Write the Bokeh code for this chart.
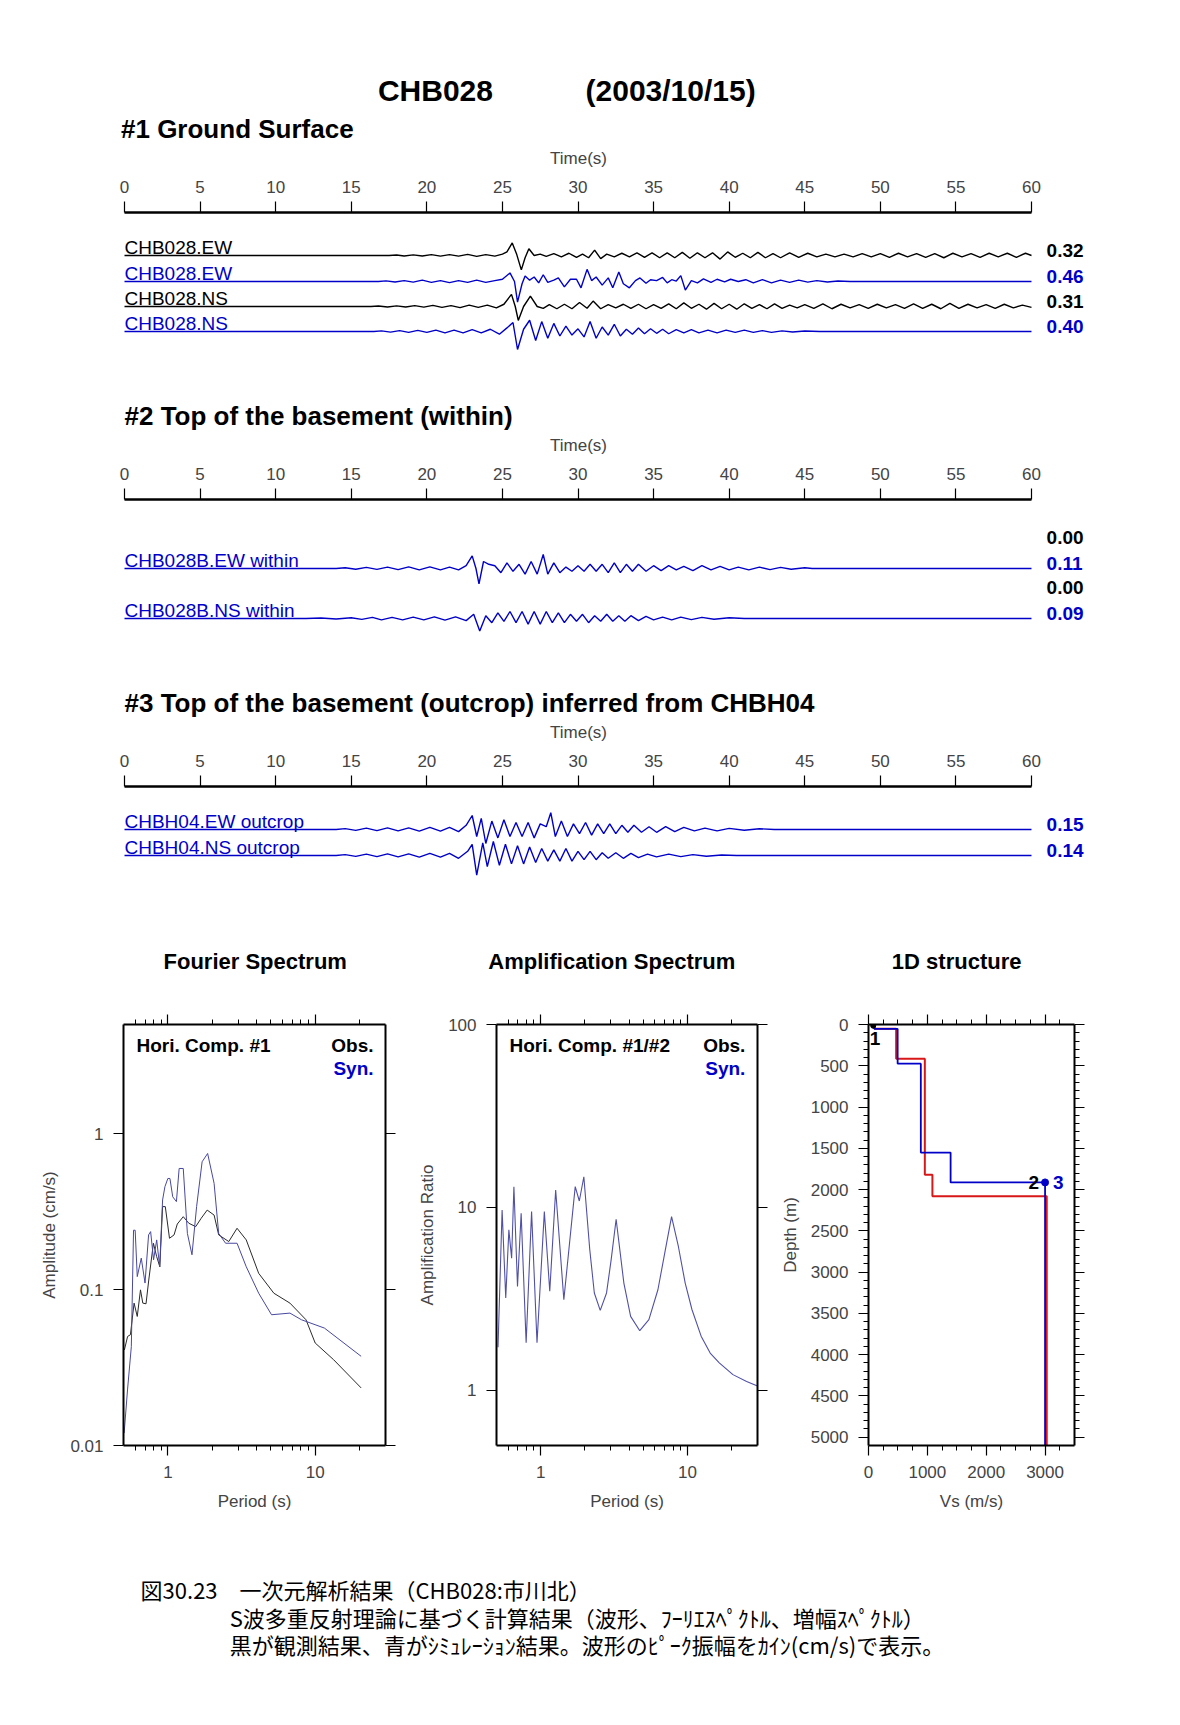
from bokeh.plotting import figure
from bokeh.models import Range1d, LinearAxis, LogAxis, FixedTicker, CustomJSTickFormatter
from bokeh.layouts import column, row
from bokeh.embed import file_html
from bokeh.resources import INLINE
from bokeh.core.properties import value

# ---------------------------------------------------------------- data
time_ticks = list(range(0, 61, 5))

# section 1 : ground surface (t [s], v [cm/s])
ew_obs = [(0, 0), (17.5, 0), (18.0, 0.01), (18.5, -0.01), (19.1, 0.015), (19.7, -0.01), (20.3, 0.02),
          (20.9, -0.015), (21.5, 0.02), (22.1, -0.015), (22.7, 0.025), (23.3, -0.02), (23.9, 0.02),
          (24.5, -0.015), (25.0, 0.03), (25.3, 0.08), (25.65, 0.28), (25.95, 0.02), (26.25, -0.32),
          (26.5, -0.05), (26.75, 0.15), (27.1, 0.0), (27.5, 0.03), (27.9, -0.02), (28.4, 0.04),
          (28.9, -0.03), (29.4, 0.05), (29.9, -0.04), (30.3, 0.03), (30.7, -0.05), (31.1, 0.12),
          (31.5, -0.07), (31.9, 0.03), (32.4, -0.03), (32.9, 0.05), (33.4, -0.03), (33.9, 0.06),
          (34.4, -0.04), (34.9, 0.06), (35.4, -0.05), (35.9, 0.06), (36.4, -0.05), (36.9, 0.07),
          (37.4, -0.06), (37.9, 0.06), (38.4, -0.05), (38.9, 0.06), (39.4, -0.08), (39.9, 0.08),
          (40.4, -0.04), (40.9, 0.05), (41.4, -0.05), (41.9, 0.07), (42.4, -0.05), (42.9, 0.04),
          (43.4, -0.05), (44.0, 0.06), (44.6, -0.04), (45.2, 0.05), (45.8, -0.03), (46.4, 0.03),
          (47.0, -0.03), (47.6, 0.03), (48.2, -0.03), (48.8, 0.04), (49.4, -0.03), (50.0, 0.04),
          (50.6, -0.04), (51.2, 0.05), (51.8, -0.03), (52.4, 0.04), (53.0, -0.04), (53.6, 0.04),
          (54.2, -0.05), (54.8, 0.05), (55.4, -0.03), (56.0, 0.04), (56.6, -0.04), (57.2, 0.05),
          (57.8, -0.03), (58.4, 0.05), (59.0, -0.04), (59.6, 0.05), (60.0, 0.0)]
ew_syn = [(0, 0), (16.8, 0), (17.3, 0.015), (17.9, -0.01), (18.5, 0.02), (19.1, -0.015), (19.7, 0.03),
          (20.3, -0.02), (20.9, 0.02), (21.5, -0.025), (22.1, 0.02), (22.7, -0.02), (23.3, 0.03),
          (23.9, -0.02), (24.5, 0.02), (25.0, 0.05), (25.5, 0.19), (25.8, 0.0), (26.0, -0.46),
          (26.3, -0.05), (26.5, 0.12), (26.8, 0.03), (27.1, 0.10), (27.4, -0.03), (27.7, 0.15),
          (28.0, -0.02), (28.4, 0.03), (28.7, 0.08), (29.1, -0.12), (29.5, 0.05), (29.9, 0.05),
          (30.2, -0.14), (30.6, 0.27), (30.9, 0.02), (31.2, 0.1), (31.6, -0.08), (32.0, 0.08),
          (32.3, -0.14), (32.7, 0.21), (33.0, -0.05), (33.4, -0.14), (33.8, 0.02), (34.1, 0.08),
          (34.5, -0.04), (34.8, 0.04), (35.2, 0.02), (35.6, 0.09), (35.9, -0.03), (36.2, 0.04),
          (36.5, 0.01), (36.8, 0.13), (37.1, -0.19), (37.5, 0.02), (37.9, -0.03), (38.3, 0.06),
          (38.8, -0.02), (39.2, 0.05), (39.7, -0.01), (40.1, 0.05), (40.6, 0.0), (41.1, 0.04),
          (41.6, -0.03), (42.2, 0.04), (42.8, -0.03), (43.4, 0.03), (44.0, -0.02), (44.6, 0.03),
          (45.2, -0.015), (45.8, 0.02), (46.5, -0.01), (47.2, 0.01), (48.0, 0.0), (60.0, 0.0)]
ns_obs = [(0, 0), (16.3, 0), (16.8, 0.01), (17.4, -0.01), (18.0, 0.015), (18.6, -0.01), (19.2, 0.02),
          (19.8, -0.015), (20.4, 0.025), (21.0, -0.02), (21.6, 0.02), (22.2, -0.025), (22.8, 0.03),
          (23.4, -0.02), (24.0, 0.03), (24.6, -0.03), (25.1, 0.05), (25.6, 0.27), (25.85, 0.0),
          (26.05, -0.31), (26.4, 0.0), (26.85, 0.23), (27.3, 0.0), (27.7, -0.04), (28.1, 0.04),
          (28.6, -0.05), (29.1, 0.05), (29.6, -0.05), (30.1, 0.09), (30.6, -0.04), (31.0, 0.12),
          (31.5, -0.05), (32.0, 0.04), (32.5, -0.03), (33.0, 0.05), (33.5, -0.04), (34.0, 0.05),
          (34.5, -0.05), (35.0, 0.04), (35.5, -0.04), (36.0, 0.06), (36.5, -0.05), (37.0, 0.08),
          (37.5, -0.04), (38.0, 0.05), (38.5, -0.06), (39.0, 0.07), (39.5, -0.05), (40.0, 0.05),
          (40.5, -0.06), (41.0, 0.06), (41.5, -0.04), (42.0, 0.04), (42.5, -0.05), (43.0, 0.06),
          (43.5, -0.04), (44.0, 0.03), (44.5, -0.03), (45.0, 0.04), (45.6, -0.04), (46.2, 0.06),
          (46.8, -0.05), (47.4, 0.05), (48.0, -0.03), (48.6, 0.04), (49.2, -0.04), (49.8, 0.05),
          (50.4, -0.03), (51.0, 0.04), (51.6, -0.04), (52.2, 0.06), (52.8, -0.04), (53.4, 0.05),
          (54.0, -0.05), (54.6, 0.07), (55.2, -0.04), (55.8, 0.05), (56.4, -0.03), (57.0, 0.04),
          (57.6, -0.04), (58.2, 0.05), (58.8, -0.03), (59.4, 0.03), (60.0, -0.02)]
ns_syn = [(0, 0), (16.5, 0), (17.0, 0.015), (17.6, -0.015), (18.2, 0.02), (18.8, -0.02), (19.4, 0.025),
          (20.0, -0.02), (20.6, 0.03), (21.2, -0.03), (21.8, 0.03), (22.4, -0.03), (23.0, 0.04),
          (23.6, -0.03), (24.2, 0.05), (24.8, -0.06), (25.3, 0.08), (25.7, 0.2), (26.0, -0.40),
          (26.4, 0.05), (26.8, 0.25), (27.2, -0.2), (27.6, 0.22), (28.0, -0.15), (28.4, 0.18),
          (28.8, -0.1), (29.2, 0.12), (29.6, -0.08), (30.0, 0.06), (30.4, -0.12), (30.8, 0.22),
          (31.2, -0.15), (31.6, 0.1), (32.0, -0.08), (32.4, 0.16), (32.8, -0.1), (33.2, 0.05),
          (33.6, -0.06), (34.0, 0.08), (34.4, -0.05), (34.8, 0.06), (35.2, -0.04), (35.6, 0.05),
          (36.0, -0.05), (36.5, 0.04), (37.0, -0.03), (37.5, 0.04), (38.0, -0.03), (38.6, 0.03),
          (39.2, -0.03), (39.8, 0.03), (40.4, -0.02), (41.0, 0.03), (41.6, -0.02), (42.2, 0.02),
          (42.8, -0.02), (43.5, 0.015), (44.2, -0.01), (45.0, 0.01), (46.0, 0.0), (60.0, 0.0)]

# section 2 : top of the basement (within)
ewb_syn = [(0, 0), (14.0, 0), (14.6, 0.005), (15.3, -0.005), (16.0, 0.008), (16.7, -0.006), (17.4, 0.01),
           (18.1, -0.008), (18.8, 0.012), (19.5, -0.01), (20.2, 0.012), (20.9, -0.01), (21.5, 0.01),
           (22.1, -0.01), (22.6, 0.02), (23.0, 0.09), (23.25, 0.0), (23.45, -0.11), (23.75, 0.05),
           (24.1, 0.03), (24.5, 0.02), (24.9, -0.03), (25.3, 0.04), (25.7, -0.02), (26.1, 0.03),
           (26.5, -0.04), (26.9, 0.05), (27.3, -0.04), (27.7, 0.1), (28.0, -0.04), (28.4, 0.04),
           (28.8, -0.03), (29.2, 0.01), (29.6, -0.02), (30.0, 0.02), (30.4, -0.02), (30.8, 0.03),
           (31.2, -0.02), (31.6, 0.03), (32.0, -0.03), (32.4, 0.04), (32.8, -0.03), (33.2, 0.03),
           (33.6, -0.02), (34.0, 0.03), (34.5, -0.02), (35.0, 0.02), (35.5, -0.015), (36.0, 0.02),
           (36.5, -0.01), (37.0, 0.015), (37.6, -0.015), (38.2, 0.02), (38.8, -0.01), (39.4, 0.015),
           (40.0, -0.01), (40.6, 0.01), (41.3, -0.01), (42.0, 0.01), (42.7, -0.008), (43.4, 0.008),
           (44.1, -0.005), (45.0, 0.005), (45.5, 0.0), (60.0, 0.0)]
nsb_syn = [(0, 0), (12.0, 0), (13.0, 0.004), (14.0, -0.004), (15.0, 0.005), (15.7, -0.006), (16.4, 0.008),
           (17.0, -0.01), (17.7, 0.008), (18.4, -0.01), (19.1, 0.01), (19.8, -0.01), (20.5, 0.012),
           (21.2, -0.012), (21.9, 0.012), (22.6, -0.015), (23.1, 0.03), (23.5, -0.09), (23.9, 0.02),
           (24.3, -0.03), (24.7, 0.04), (25.1, -0.02), (25.5, 0.05), (25.9, -0.03), (26.3, 0.05),
           (26.7, -0.04), (27.1, 0.05), (27.5, -0.04), (27.9, 0.05), (28.3, -0.03), (28.7, 0.04),
           (29.1, -0.03), (29.5, 0.03), (29.9, -0.02), (30.3, 0.03), (30.7, -0.03), (31.1, 0.02),
           (31.5, -0.02), (31.9, 0.03), (32.3, -0.02), (32.7, 0.02), (33.1, -0.02), (33.5, 0.02),
           (34.0, -0.015), (34.5, 0.015), (35.0, -0.01), (35.6, 0.01), (36.2, -0.01), (36.8, 0.01),
           (37.5, -0.008), (38.2, 0.008), (39.0, -0.005), (40.0, 0.005), (41.0, 0.0), (60.0, 0.0)]

# section 3 : top of the basement (outcrop) from CHBH04
ewo_syn = [(0, 0), (14.0, 0), (14.6, 0.006), (15.3, -0.006), (16.0, 0.01), (16.7, -0.008), (17.4, 0.012),
           (18.1, -0.01), (18.8, 0.012), (19.5, -0.012), (20.2, 0.015), (20.9, -0.012), (21.5, 0.015),
           (22.1, -0.015), (22.6, 0.03), (23.0, 0.1), (23.3, -0.05), (23.6, 0.08), (23.9, -0.1),
           (24.3, 0.06), (24.7, -0.06), (25.1, 0.07), (25.5, -0.05), (25.9, 0.05), (26.3, -0.05),
           (26.7, 0.05), (27.1, -0.06), (27.5, 0.04), (27.9, 0.02), (28.2, 0.12), (28.5, -0.05),
           (28.9, 0.06), (29.3, -0.05), (29.7, 0.04), (30.1, -0.03), (30.5, 0.05), (30.9, -0.04),
           (31.3, 0.04), (31.7, -0.03), (32.1, 0.04), (32.5, -0.03), (32.9, 0.03), (33.3, -0.02),
           (33.7, 0.03), (34.2, -0.02), (34.7, 0.02), (35.2, -0.02), (35.8, 0.02), (36.4, -0.015),
           (37.0, 0.015), (37.7, -0.01), (38.4, 0.01), (39.2, -0.01), (40.0, 0.008), (41.0, -0.005),
           (42.0, 0.005), (43.0, 0.0), (60.0, 0.0)]
nso_syn = [(0, 0), (14.0, 0), (14.6, 0.006), (15.3, -0.006), (16.0, 0.01), (16.7, -0.008), (17.4, 0.012),
           (18.1, -0.01), (18.8, 0.012), (19.5, -0.012), (20.2, 0.015), (20.9, -0.012), (21.5, 0.015),
           (22.1, -0.02), (22.7, 0.03), (23.0, 0.08), (23.3, -0.14), (23.7, 0.09), (24.0, -0.08),
           (24.4, 0.1), (24.8, -0.07), (25.2, 0.08), (25.6, -0.06), (26.0, 0.07), (26.4, -0.06),
           (26.8, 0.06), (27.2, -0.05), (27.6, 0.05), (28.0, -0.04), (28.4, 0.04), (28.8, -0.04),
           (29.2, 0.05), (29.6, -0.04), (30.0, 0.03), (30.4, -0.03), (30.8, 0.03), (31.2, -0.03),
           (31.6, 0.02), (32.0, -0.02), (32.5, 0.02), (33.0, -0.02), (33.5, 0.015), (34.0, -0.015),
           (34.6, 0.01), (35.2, -0.01), (36.0, 0.01), (36.8, -0.008), (37.6, 0.006), (38.5, -0.005),
           (39.5, 0.004), (40.5, 0.0), (60.0, 0.0)]

sec1_names = ["CHB028.EW", "CHB028.EW", "CHB028.NS", "CHB028.NS"]
sec1_peaks = ["0.32", "0.46", "0.31", "0.40"]
sec2_names = ["", "CHB028B.EW within", "", "CHB028B.NS within"]
sec2_peaks = ["0.00", "0.11", "0.00", "0.09"]
sec3_names = ["CHBH04.EW outcrop", "CHBH04.NS outcrop"]
sec3_peaks = ["0.15", "0.14"]

# Fourier spectrum (period [s], amplitude [cm/s])
four_syn_period = [0.505, 0.533, 0.565, 0.585, 0.600, 0.620, 0.660, 0.700, 0.740, 0.764, 0.800, 0.840,
                   0.880, 0.921, 0.955, 1.000, 1.033, 1.079, 1.143, 1.193, 1.272, 1.357, 1.458, 1.567,
                   1.708, 1.862, 2.060, 2.213, 2.465, 2.949, 3.404, 4.134, 5.054, 6.74, 8.06, 11.55, 20.5]
four_syn_amp = [0.012, 0.023, 0.043, 0.24, 0.24, 0.121, 0.159, 0.110, 0.224, 0.235, 0.155, 0.208,
                0.140, 0.375, 0.456, 0.515, 0.515, 0.393, 0.366, 0.597, 0.597, 0.229, 0.167, 0.340,
                0.659, 0.745, 0.479, 0.229, 0.198, 0.198, 0.140, 0.0947, 0.0689, 0.0706, 0.064, 0.0566, 0.0373]
four_obs_period = [0.507, 0.533, 0.557, 0.590, 0.620, 0.652, 0.676, 0.711, 0.742, 0.798, 0.839, 0.882,
                   0.921, 0.961, 1.026, 1.102, 1.159, 1.272, 1.387, 1.545, 1.683, 1.849, 2.060, 2.213,
                   2.591, 2.949, 3.404, 4.134, 5.24, 6.74, 8.66, 10.0, 13.33, 20.5]
four_obs_amp = [0.041, 0.050, 0.0513, 0.0818, 0.0672, 0.0995, 0.0818, 0.081, 0.115, 0.198, 0.163, 0.140,
                0.340, 0.340, 0.213, 0.224, 0.263, 0.293, 0.266, 0.253, 0.286, 0.323, 0.300, 0.224,
                0.203, 0.247, 0.208, 0.127, 0.0947, 0.0818, 0.064, 0.0454, 0.0355, 0.0234]

# Amplification spectrum (period [s], ratio)
amp_period = [0.512, 0.546, 0.578, 0.607, 0.634, 0.657, 0.695, 0.736, 0.796, 0.867, 0.944, 1.059,
              1.153, 1.265, 1.438, 1.719, 1.833, 1.968, 2.16, 2.32, 2.545, 2.81, 3.02, 3.266, 3.687,
              4.10, 4.731, 5.46, 6.29, 7.00, 7.793, 8.67, 9.65, 10.74, 12.39, 14.28, 16.47, 20.4, 25.3, 30.0]
amp_ratio = [1.72, 9.69, 3.20, 7.54, 5.28, 12.99, 3.70, 9.29, 1.82, 9.49, 1.82, 9.49,
             3.48, 12.45, 3.13, 12.99, 10.85, 14.72, 5.87, 3.41, 2.74, 3.41, 5.17, 8.62, 3.86,
             2.54, 2.12, 2.44, 3.55, 5.63, 8.91, 6.12, 3.86, 2.76, 1.98, 1.60, 1.415, 1.22, 1.12, 1.056]

# 1D structure (Vs [m/s], layer top depth [m])
obs_vs = [100, 470, 957, 1086, 3028]
obs_top = [0, 52, 414, 1821, 2082]
syn_vs = [100, 495, 889, 1395, 3000]
syn_top = [0, 52, 474, 1551, 1913]
depth_max = 5100

caption = ["図30.23　一次元解析結果（CHB028:市川北）",
           "S波多重反射理論に基づく計算結果（波形、ﾌｰﾘｴｽﾍﾟｸﾄﾙ、増幅ｽﾍﾟｸﾄﾙ）",
           "黒が観測結果、青がｼﾐｭﾚｰｼｮﾝ結果。波形のﾋﾟｰｸ振幅をｶｲﾝ(cm/s)で表示。"]

# ---------------------------------------------------------------- style
FONT = "Liberation Sans"
BLUE = "#0000c8"
RED = "#d81818"
W = 1180
S = 907.0 / 60.0      # px per second on the waveform time axes
LEFT_PX = 124.0       # frame pixel of t = 0
FRAME_W = 1156        # section frame width (centres the axis label on 0..60)
AX_B = 68             # height of the time-axis panel


def bare(width, height):
    p = figure(width=width, height=height, x_range=Range1d(0, width), y_range=Range1d(height, 0),
               output_backend="svg", toolbar_location=None, x_axis_location=None, y_axis_location=None,
               min_border_left=0, min_border_right=0, min_border_top=0, min_border_bottom=0)
    p.outline_line_color = None
    p.grid.visible = False
    return p


def txt(p, x, y, s, size, bold=False, color="black", align="left", baseline="middle", font=FONT, **kw):
    p.text(x=[x], y=[y], text=[s], text_font=value(font), text_font_size=size,
           text_font_style="bold" if bold else "normal", text_color=color,
           text_align=align, text_baseline=baseline, **kw)


def section(height, traces, title=None, title_y=None):
    fh = height - AX_B
    x0 = -LEFT_PX / S
    p = figure(width=W, height=height, x_range=Range1d(x0, x0 + FRAME_W / S),
               y_range=Range1d(fh, 0), output_backend="svg", toolbar_location=None,
               x_axis_location=None, y_axis_location=None,
               min_border_left=0, min_border_right=W - FRAME_W, min_border_top=AX_B, min_border_bottom=0)
    p.outline_line_color = None
    p.grid.visible = False
    ax = LinearAxis(axis_label="Time(s)", ticker=FixedTicker(ticks=time_ticks, minor_ticks=[]), bounds=(0, 60))
    ax.axis_line_width = 2.5
    ax.major_tick_in = 0
    ax.major_tick_out = 11
    ax.major_tick_line_width = 1.2
    ax.minor_tick_out = 0
    ax.major_label_text_font = FONT
    ax.major_label_text_font_size = "17px"
    ax.major_label_standoff = 9
    ax.axis_label_text_font = FONT
    ax.axis_label_text_font_size = "17px"
    ax.axis_label_text_font_style = "normal"
    ax.axis_label_standoff = 10
    p.add_layout(ax, "above")
    ranges = {}
    for i, tr in enumerate(traces):
        b, k = tr["base"], tr["k"]
        ranges["tr%d" % i] = Range1d(-(fh - b) / k, b / k)
    p.extra_y_ranges = ranges
    for i, tr in enumerate(traces):
        name = "tr%d" % i
        col = tr["color"]
        if tr["data"] is not None:
            t = [d[0] for d in tr["data"]]
            v = [d[1] for d in tr["data"]]
            p.line(t, v, y_range_name=name, line_color=col, line_width=1.4)
        if tr["name"]:
            txt(p, 0, 0, tr["name"], "19px", color=col, y_range_name=name, y_offset=-8)
        txt(p, 61.0, 0, tr["peak"], "19px", bold=True, color=col, y_range_name=name, y_offset=-5)
    if title:
        txt(p, 0, title_y, title, "26px", bold=True)
    return p


# ---------------------------------------------------------------- header
head = bare(W, 144)
txt(head, 444, 90, "CHB028", "30px", bold=True, align="center")
txt(head, 684, 90, "(2003/10/15)", "30px", bold=True, align="center")
txt(head, 123, 128, "#1 Ground Surface", "26px", bold=True)

K1 = 45.0
K2 = 140.0
f1 = section(287, [
    dict(base=43, k=K1, color="black", data=ew_obs, name=sec1_names[0], peak=sec1_peaks[0]),
    dict(base=69, k=K1, color=BLUE, data=ew_syn, name=sec1_names[1], peak=sec1_peaks[1]),
    dict(base=94, k=K1, color="black", data=ns_obs, name=sec1_names[2], peak=sec1_peaks[2]),
    dict(base=119, k=K1, color=BLUE, data=ns_syn, name=sec1_names[3], peak=sec1_peaks[3]),
], title="#2 Top of the basement (within)", title_y=203)

f2 = section(287, [
    dict(base=43, k=K2, color="black", data=None, name=sec2_names[0], peak=sec2_peaks[0]),
    dict(base=69, k=K2, color=BLUE, data=ewb_syn, name=sec2_names[1], peak=sec2_peaks[1]),
    dict(base=93, k=K2, color="black", data=None, name=sec2_names[2], peak=sec2_peaks[2]),
    dict(base=119, k=K2, color=BLUE, data=nsb_syn, name=sec2_names[3], peak=sec2_peaks[3]),
], title="#3 Top of the basement (outcrop) inferred from  CHBH04", title_y=203)

f3 = section(207, [
    dict(base=43, k=K2, color=BLUE, data=ewo_syn, name=sec3_names[0], peak=sec3_peaks[0]),
    dict(base=69, k=K2, color=BLUE, data=nso_syn, name=sec3_names[1], peak=sec3_peaks[1]),
])

strip = bare(W, 79)
txt(strip, 260, 36, "Fourier Spectrum", "22px", bold=True, align="center")
txt(strip, 624, 36, "Amplification Spectrum", "22px", bold=True, align="center")
txt(strip, 976, 36, "1D structure", "22px", bold=True, align="center")


# ---------------------------------------------------------------- bottom plots
def style(ax, labels=True):
    ax.axis_line_width = 2
    ax.axis_line_color = "black"
    ax.major_tick_in = 0
    ax.major_tick_out = 10
    ax.minor_tick_in = 0
    ax.minor_tick_out = 5
    ax.major_tick_line_width = 1.2
    ax.minor_tick_line_width = 1
    ax.major_label_text_font = FONT
    ax.major_label_text_font_size = "17px"
    ax.axis_label_text_font = FONT
    ax.axis_label_text_font_size = "17px"
    ax.axis_label_text_font_style = "normal"
    if labels:
        ax.major_label_standoff = 10
        ax.axis_label_standoff = 8
    else:
        ax.formatter = CustomJSTickFormatter(code="return ''")
        ax.major_label_text_font_size = "0px"
        ax.major_label_standoff = 0


def loglog(width, left, right, yr, yticks, ylabel):
    p = figure(width=width, height=511, x_axis_type="log", y_axis_type="log",
               x_range=Range1d(0.5, 30), y_range=Range1d(*yr),
               min_border_left=left, min_border_right=right, min_border_top=20, min_border_bottom=70,
               output_backend="svg", toolbar_location=None)
    p.outline_line_color = None
    p.grid.visible = False
    xt = dict(ticks=[1, 10], minor_ticks=[0.6, 0.7, 0.8, 0.9, 2, 3, 4, 5, 6, 7, 8, 9, 20])
    p.xaxis.ticker = FixedTicker(**xt)
    p.xaxis.formatter = CustomJSTickFormatter(code="return tick.toString()")
    p.xaxis.axis_label = "Period (s)"
    p.yaxis.ticker = FixedTicker(ticks=yticks, minor_ticks=[])
    p.yaxis.formatter = CustomJSTickFormatter(code="return tick.toString()")
    p.yaxis.axis_label = ylabel
    for a in p.xaxis + p.yaxis:
        style(a)
    p.xaxis.axis_label_standoff = 11
    top = LogAxis(ticker=FixedTicker(**xt))
    rgt = LogAxis(ticker=FixedTicker(ticks=yticks, minor_ticks=[]))
    style(top, False)
    style(rgt, False)
    p.add_layout(top, "above")
    p.add_layout(rgt, "right")
    return p


pf = loglog(414, 123, 29, (0.01, 5), [0.01, 0.1, 1], "Amplitude (cm/s)")
pf.line(four_obs_period, four_obs_amp, line_color="#2a2a2a", line_width=1)
pf.line(four_syn_period, four_syn_amp, line_color="#4848a0", line_width=1)
txt(pf, 0.612, 3.66, "Hori. Comp. #1", "19px", bold=True)
txt(pf, 24.9, 3.66, "Obs.", "19px", bold=True, align="right")
txt(pf, 24.9, 2.61, "Syn.", "19px", bold=True, align="right", color=BLUE)

pa = loglog(362, 82, 19, (0.5, 100), [1, 10, 100], "Amplification Ratio")
pa.line(amp_period, amp_ratio, line_color="#5050a8", line_width=1.1)
txt(pa, 0.613, 76.7, "Hori. Comp. #1/#2", "19px", bold=True)
txt(pa, 24.8, 76.7, "Obs.", "19px", bold=True, align="right")
txt(pa, 24.8, 57.5, "Syn.", "19px", bold=True, align="right", color=BLUE)


def steps(vs, top):
    xs, ys = [], []
    bottoms = top[1:] + [depth_max]
    for v, a, b in zip(vs, top, bottoms):
        xs += [v, v]
        ys += [a, b]
    return xs, ys


pdp = figure(width=404, height=511, x_range=Range1d(0, 3500), y_range=Range1d(depth_max, 0),
             min_border_left=92, min_border_right=106, min_border_top=20, min_border_bottom=70,
             output_backend="svg", toolbar_location=None)
pdp.outline_line_color = None
pdp.grid.visible = False
vx = dict(ticks=[0, 1000, 2000, 3000], minor_ticks=[v for v in range(250, 3500, 250) if v % 1000])
dy = dict(ticks=list(range(0, 5001, 500)), minor_ticks=[v for v in range(100, 5100, 100) if v % 500])
pdp.xaxis.ticker = FixedTicker(**vx)
pdp.xaxis.axis_label = "Vs (m/s)"
pdp.yaxis.ticker = FixedTicker(**dy)
pdp.yaxis.axis_label = "Depth (m)"
for a in pdp.xaxis + pdp.yaxis:
    style(a)
pdp.xaxis.axis_label_standoff = 11
t_ax = LinearAxis(ticker=FixedTicker(**vx))
r_ax = LinearAxis(ticker=FixedTicker(**dy))
style(t_ax, False)
style(r_ax, False)
pdp.add_layout(t_ax, "above")
pdp.add_layout(r_ax, "right")
ox, oy = steps(obs_vs, obs_top)
sx, sy = steps(syn_vs, syn_top)
pdp.line(ox, oy, line_color=RED, line_width=2)
pdp.line(sx, sy, line_color=BLUE, line_width=1.8)
pdp.scatter([80], [15], size=5, color="black")
pdp.scatter([syn_vs[-1]], [syn_top[-1]], size=7, color=BLUE)
txt(pdp, 20, 170, "1", "19px", bold=True)
txt(pdp, syn_vs[-1], syn_top[-1], "2", "19px", bold=True, align="right", x_offset=-6)
txt(pdp, syn_vs[-1], syn_top[-1], "3", "19px", bold=True, color=BLUE, x_offset=8)

bottom = row(pf, pa, pdp)

cap = bare(W, 185)
txt(cap, 143, 73, caption[0], "22px", font="Noto Sans CJK JP")
txt(cap, 234, 101, caption[1], "22px", font="Noto Sans CJK JP")
txt(cap, 234, 128, caption[2], "22px", font="Noto Sans CJK JP")

page = column(head, f1, f2, f3, strip, bottom, cap)
open("out.html", "w").write(file_html(page, INLINE))
